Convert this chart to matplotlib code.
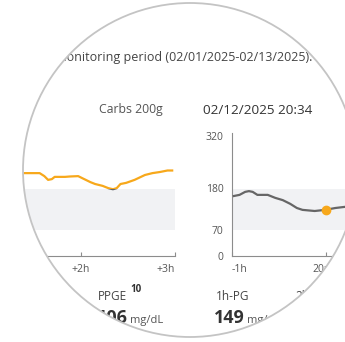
import numpy as np
import matplotlib
matplotlib.use("Agg")
import matplotlib.pyplot as plt
from matplotlib.path import Path
from matplotlib.patches import PathPatch, Circle, Rectangle

plt.rcParams['font.family'] = ['Open Sans', 'DejaVu Sans']

# after-meal curve (left panel), hours after meal / mg/dL
post_t = [1.40, 1.56, 1.61, 1.65, 1.69, 1.72, 1.83, 1.88, 1.97, 2.01, 2.10,
          2.15, 2.23, 2.29, 2.34, 2.38, 2.42, 2.48, 2.57, 2.68, 2.76, 2.84, 2.92, 2.97]
post_v = [221, 221, 213, 203, 205, 211, 211, 212, 213, 208, 197,
          192, 187, 181, 178, 181, 192, 195, 203, 216, 221, 224, 228, 228]

# around-meal curve (right panel), hours relative to 20:34
pre_t = [-0.98, -0.92, -0.86, -0.82, -0.78, -0.73, -0.62, -0.54, -0.46,
         -0.38, -0.31, -0.25, -0.12, -0.01, 0.10, 0.20]
pre_v = [160, 163, 171, 173, 171, 163, 163, 155, 149,
         139, 128, 123, 120, 123, 128, 131]
meal_t, meal_v = 0.0, 123

target = (70, 180)
y_ticks = [0, 70, 180, 320]

W, H = 345, 342
ORANGE = '#f7a81b'
LINE_GRAY = '#666666'
BAND = '#f1f2f4'
AXIS = '#8c8c8c'


def px_axes(fig, x0, y0, x1, y1):
    # pixel box (top-left origin) -> figure axes
    return fig.add_axes([x0 / W, (H - y1) / H, (x1 - x0) / W, (y1 - y0) / H])


def draw_curve(ax, t, v):
    # gray inside/below target, orange above it
    lo, = ax.plot(t, v, color=LINE_GRAY, lw=1.6, zorder=3)
    hi, = ax.plot(t, v, color=ORANGE, lw=1.6, zorder=4)
    lo.set_clip_path(Rectangle((-10, -100), 20, 100 + target[1], transform=ax.transData))
    hi.set_clip_path(Rectangle((-10, target[1]), 20, 1000, transform=ax.transData))


fig = plt.figure(figsize=(W / 100, H / 100), dpi=100)

# left panel
axl = px_axes(fig, 10, 133, 175, 256)
axl.set_xlim(2 - 71 / 94, 3)
axl.set_ylim(0, 328)
axl.axhspan(*target, color=BAND, lw=0, zorder=1)
draw_curve(axl, post_t, post_v)
for s in ['left', 'right', 'top']:
    axl.spines[s].set_visible(False)
axl.spines['bottom'].set_color(AXIS)
axl.set_yticks([])
axl.set_xticks([2, 3])
axl.set_xticklabels(['+2h', '+3h'])
axl.get_xticklabels()[1].set_ha('right')
axl.tick_params(axis='x', direction='in', length=3, color=AXIS, labelsize=7.5,
                labelcolor='#555555', pad=6)

# right panel
axr = px_axes(fig, 232, 133, 400, 256)
axr.set_xlim(-1, -1 + 168 / 94)
axr.set_ylim(0, 328)
axr.axhspan(*target, color=BAND, lw=0, zorder=1)
draw_curve(axr, pre_t, pre_v)
axr.plot([meal_t], [meal_v], 'o', color=ORANGE, ms=6, zorder=5)
for s in ['right', 'top']:
    axr.spines[s].set_visible(False)
axr.spines['bottom'].set_color(AXIS)
axr.spines['left'].set_color(AXIS)
axr.set_yticks(y_ticks)
axr.set_xticks([-1, 0])
axr.set_xticklabels(['-1h', '20:34'])
axr.get_xticklabels()[0].set_ha('left')
axr.tick_params(axis='x', direction='in', length=3, color=AXIS, labelsize=7.5,
                labelcolor='#555555', pad=6)
axr.tick_params(axis='y', length=0, labelsize=7.5, labelcolor='#555555', pad=6)

# overlay in pixel coordinates: texts + circular lens mask
ov = fig.add_axes([0, 0, 1, 1], zorder=10)
ov.set_xlim(0, W)
ov.set_ylim(H, 0)
ov.axis('off')
ov.patch.set_alpha(0)

ov.text(312, 57, 'Glucose after meals during the monitoring period (02/01/2025-02/13/2025).',
        ha='right', va='center', fontsize=9, color='#444444')
ov.text(163, 110, 'Carbs 200g', ha='right', va='center', fontsize=8.8, color='#555555')
ov.text(203, 110, '02/12/2025 20:34', ha='left', va='center', fontsize=9.7, color='#333333')

ov.text(98, 297, 'PPGE', ha='left', va='center', fontsize=8.5, color='#444444')
ov.text(130, 289, '10', ha='left', va='center', fontsize=7, fontweight='bold', color='#333333')
ov.text(128, 318, '106', ha='right', va='center', fontsize=13, fontweight='bold', color='#333333')
ov.text(130, 320, 'mg/dL', ha='left', va='center', fontsize=8, color='#555555')

ov.text(216, 297, '1h-PG', ha='left', va='center', fontsize=8.5, color='#444444')
ov.text(245, 318, '149', ha='right', va='center', fontsize=13, fontweight='bold', color='#333333')
ov.text(247, 320, 'mg/dL', ha='left', va='center', fontsize=8, color='#555555')
ov.text(295, 297, '2h-PG', ha='left', va='center', fontsize=8.5, color='#444444')
ov.text(295, 318, '131', ha='left', va='center', fontsize=13, fontweight='bold', color='#333333')

cx, cy, r = 190, 170, 167
rect = Path([(-5, -5), (-5, H + 5), (W + 5, H + 5), (W + 5, -5), (-5, -5)],
            [Path.MOVETO, Path.LINETO, Path.LINETO, Path.LINETO, Path.CLOSEPOLY])
circ = Path.circle((cx, cy), r)
mask = Path.make_compound_path(rect, circ)
ov.add_patch(PathPatch(mask, facecolor='white', edgecolor='none', zorder=20))
ov.add_patch(Circle((cx, cy), r, facecolor='none', edgecolor='#c4c4c4', lw=1.3, zorder=21))

fig.savefig('out.png', dpi=100)
